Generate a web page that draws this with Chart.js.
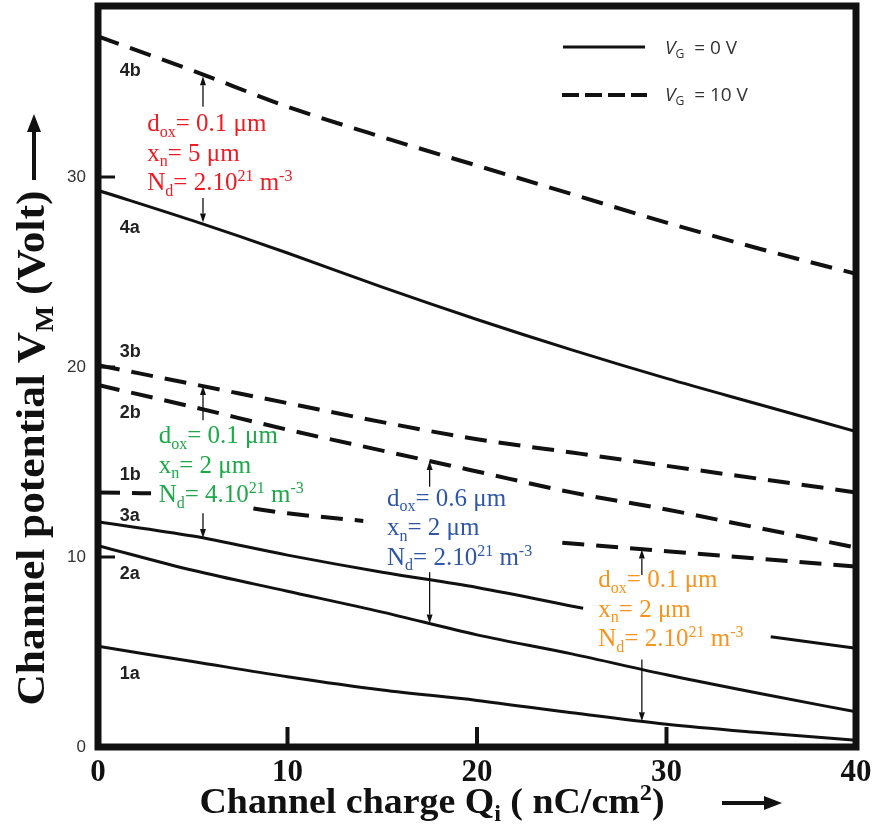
<!DOCTYPE html>
<html>
<head>
<meta charset="utf-8">
<script src="https://cdn.jsdelivr.net/npm/chart.js@4/dist/chart.umd.min.js"></script>
<style>
  html, body { margin: 0; padding: 0; background: #fff; }
</style>
</head>
<body>
<canvas id="potentialChart" width="876" height="826"></canvas>
<script>
// Channel potential V_M (V) against channel charge Q_i (nC/cm2)
const chargeGrid = [0, 5, 10, 15, 20, 25, 30, 35, 40];
const vm4b = [37.4, 35.6, 33.7, 32.1, 30.6, 29.1, 27.6, 26.2, 24.9];
const vm4a = [29.3, 27.7, 26.0, 24.2, 22.5, 20.9, 19.4, 18.0, 16.6];
const vm3b = [20.1, 19.1, 18.1, 17.1, 16.2, 15.5, 14.8, 14.1, 13.4];
const vm2b = [19.05, 17.9, 16.7, 15.6, 14.5, 13.4, 12.5, 11.5, 10.5];
const vm2a = [10.6, 9.3, 8.2, 7.1, 5.9, 4.9, 3.8, 2.8, 1.85];
const vm1a = [5.3, 4.5, 3.7, 3.0, 2.45, 1.8, 1.2, 0.75, 0.35];
// 1b and 3a are broken where the parameter notes sit on them
const charge1b = [0, 2.8, 5, 8.2, 10, 14, 19, 24.5, 30, 35, 40];
const vm1b = [13.4, 13.35, null, 12.55, 12.3, 11.9, null, 10.75, 10.3, 9.9, 9.5];
const charge3a = [0, 5, 10, 15, 20, 25.6, 30, 35.5, 40];
const vm3a = [11.85, 11.1, 10.1, 9.2, 8.4, 7.3, null, 5.8, 5.2];

const xTicks = [0, 10, 20, 30, 40];
const yTicks = [0, 10, 20, 30];

const pts = (xs, ys) => xs.map((x, i) => ({ x: x, y: ys[i] }));

function curve(label, xs, ys, dashed) {
  return {
    label: label,
    data: pts(xs, ys),
    borderColor: '#111',
    borderWidth: dashed ? 4 : 3,
    borderDash: dashed ? [22, 12] : [],
    pointRadius: 0,
    fill: false,
    spanGaps: false,
    cubicInterpolationMode: 'monotone'
  };
}

const SERIF = '"Liberation Serif", "Times New Roman", serif';
const SANS = '"Liberation Sans", Arial, sans-serif';

// rich text: parts are [text, mode] with mode '', 'sub', 'sup' or 'it'
function richWidth(ctx, parts, size, family, weight) {
  let w = 0;
  for (const [t, mode] of parts) {
    const s = (mode === 'sub' || mode === 'sup') ? size * 0.64 : size;
    ctx.font = (mode === 'it' ? 'italic ' : '') + weight + ' ' + s + 'px ' + family;
    w += ctx.measureText(t).width;
  }
  return w;
}
function drawRich(ctx, x, y, parts, size, family, weight, color) {
  let cx = x;
  ctx.fillStyle = color;
  ctx.textAlign = 'left';
  ctx.textBaseline = 'alphabetic';
  for (const [t, mode] of parts) {
    const s = (mode === 'sub' || mode === 'sup') ? size * 0.64 : size;
    const dy = mode === 'sub' ? size * 0.22 : mode === 'sup' ? -size * 0.36 : 0;
    ctx.font = (mode === 'it' ? 'italic ' : '') + weight + ' ' + s + 'px ' + family;
    ctx.fillText(t, cx, y + dy);
    cx += ctx.measureText(t).width;
  }
  return cx;
}
function arrow(ctx, x1, y1, x2, y2, width, headLen, headHalf) {
  const a = Math.atan2(y2 - y1, x2 - x1);
  const bx = x2 - headLen * Math.cos(a), by = y2 - headLen * Math.sin(a);
  ctx.lineWidth = width;
  ctx.setLineDash([]);
  ctx.beginPath(); ctx.moveTo(x1, y1); ctx.lineTo(bx, by); ctx.stroke();
  ctx.beginPath();
  ctx.moveTo(x2, y2);
  ctx.lineTo(bx + headHalf * Math.sin(a), by - headHalf * Math.cos(a));
  ctx.lineTo(bx - headHalf * Math.sin(a), by + headHalf * Math.cos(a));
  ctx.closePath(); ctx.fill();
}

function noteLines(dox, xn, nd) {
  return [
    [['d', ''], ['ox', 'sub'], ['= ' + dox + ' μm', '']],
    [['x', ''], ['n', 'sub'], ['= ' + xn + ' μm', '']],
    [['N', ''], ['d', 'sub'], ['= ' + nd + '.10', ''], ['21', 'sup'], [' m', ''], ['-3', 'sup']]
  ];
}

// parameter notes, anchored in data units (first baseline), with their arrows
const notes = [
  { color: '#ed1c24', q: 2.6, v: 32.4, lines: noteLines('0.1', '5', '2'), aq: 5.54, up: [33.7, 35.3], down: [28.9, 27.6] },
  { color: '#1fa84a', q: 3.2, v: 16.0, lines: noteLines('0.1', '2', '4'), aq: 5.54, up: [17.2, 19.0], down: [12.3, 11.0] },
  { color: '#2f57a6', q: 15.25, v: 12.7, lines: noteLines('0.6', '2', '2'), aq: 17.5, up: [13.7, 15.05], down: [9.2, 6.5] },
  { color: '#f7941d', q: 26.4, v: 8.4, lines: noteLines('0.1', '2', '2'), aq: 28.7, up: [9.05, 10.4], down: [4.6, 1.36] }
];

const curveTags = [['4b', 35.6], ['4a', 27.3], ['3b', 20.8], ['2b', 17.6], ['1b', 14.3], ['3a', 12.15], ['2a', 9.1], ['1a', 3.85]];

// draws rich text squeezed or stretched to a given width, centred on (cx, y)
function drawRichFit(ctx, cx, y, parts, size, family, weight, color, width) {
  const w = richWidth(ctx, parts, size, family, weight);
  ctx.save();
  ctx.translate(cx, y);
  ctx.scale(width / w, 1);
  drawRich(ctx, -w / 2, 0, parts, size, family, weight, color);
  ctx.restore();
}

const figurePlugin = {
  id: 'figure',
  afterDatasetsDraw(chart) {
    const ctx = chart.ctx;
    const xs = chart.scales.x, ys = chart.scales.y;
    ctx.save();
    // curve names next to the potential axis
    ctx.font = 'bold 18px ' + SANS;
    ctx.fillStyle = '#222';
    ctx.textAlign = 'left';
    ctx.textBaseline = 'middle';
    for (const [name, v] of curveTags) ctx.fillText(name, xs.getPixelForValue(1.15), ys.getPixelForValue(v));

    // notes and their arrows
    ctx.strokeStyle = '#111';
    for (const n of notes) {
      const x0 = xs.getPixelForValue(n.q);
      const y0 = ys.getPixelForValue(n.v);
      n.lines.forEach((parts, i) => drawRich(ctx, x0, y0 + i * 29.5, parts, 25, SERIF, 'normal', n.color));
      ctx.fillStyle = '#111';
      const ax = xs.getPixelForValue(n.aq);
      arrow(ctx, ax, ys.getPixelForValue(n.up[0]), ax, ys.getPixelForValue(n.up[1]), 1.3, 9, 3);
      arrow(ctx, ax, ys.getPixelForValue(n.down[0]), ax, ys.getPixelForValue(n.down[1]), 1.3, 9, 3);
    }
    ctx.restore();
  },
  afterDraw(chart) {
    const ctx = chart.ctx;
    const a = chart.chartArea;
    const xs = chart.scales.x, ys = chart.scales.y;
    ctx.save();
    ctx.strokeStyle = '#111';
    ctx.fillStyle = '#111';
    ctx.setLineDash([]);

    // inward tick marks
    ctx.lineWidth = 4;
    for (const t of xTicks.slice(1, -1)) {
      const px = xs.getPixelForValue(t);
      ctx.beginPath(); ctx.moveTo(px, a.bottom); ctx.lineTo(px, a.bottom - 20); ctx.stroke();
    }
    ctx.lineWidth = 3;
    for (const t of yTicks.slice(1)) {
      const py = ys.getPixelForValue(t);
      ctx.beginPath(); ctx.moveTo(a.left, py); ctx.lineTo(a.left + 17, py); ctx.stroke();
    }

    // heavy frame
    ctx.lineWidth = 7;
    ctx.strokeRect(a.left, a.top, a.right - a.left, a.bottom - a.top);

    // legend
    ctx.lineWidth = 3;
    ctx.beginPath(); ctx.moveTo(563, 47); ctx.lineTo(645, 47); ctx.stroke();
    ctx.lineWidth = 4;
    ctx.setLineDash([17, 6]);
    ctx.beginPath(); ctx.moveTo(562, 95); ctx.lineTo(647, 95); ctx.stroke();
    ctx.setLineDash([]);
    drawRich(ctx, 665, 54, [['V', 'it'], ['G', 'sub'], ['  = 0 V', '']], 19, '"Open Sans", sans-serif', 'normal', '#333');
    drawRich(ctx, 665, 101, [['V', 'it'], ['G', 'sub'], ['  = 10 V', '']], 19, '"Open Sans", sans-serif', 'normal', '#333');

    // charge axis title and arrow
    const xTitle = [['Channel charge Q', ''], ['i', 'sub'], [' ( nC/cm', ''], ['2', 'sup'], [')', '']];
    drawRichFit(ctx, 432, 813, xTitle, 36, SERIF, 'bold', '#111', 465);
    ctx.fillStyle = '#111';
    arrow(ctx, 722, 803, 782, 803, 4, 18, 7);

    // potential axis title and arrow
    const yTitle = [['Channel potential V', ''], ['M', 'sub'], [' (Volt)', '']];
    ctx.translate(44, 448);
    ctx.rotate(-Math.PI / 2);
    drawRichFit(ctx, 0, 0, yTitle, 39, SERIF, 'bold', '#111', 515);
    ctx.fillStyle = '#111';
    arrow(ctx, 268, -10, 334, -10, 4, 18, 7);
    ctx.restore();
  }
};

new Chart(document.getElementById('potentialChart'), {
  type: 'line',
  data: {
    datasets: [
      curve('4b', chargeGrid, vm4b, true),
      curve('4a', chargeGrid, vm4a, false),
      curve('3b', chargeGrid, vm3b, true),
      curve('2b', chargeGrid, vm2b, true),
      curve('1b', charge1b, vm1b, true),
      curve('3a', charge3a, vm3a, false),
      curve('2a', chargeGrid, vm2a, false),
      curve('1a', chargeGrid, vm1a, false)
    ]
  },
  options: {
    responsive: false,
    animation: false,
    layout: { padding: { top: 6, right: 20, left: 0, bottom: 0 } },
    plugins: { legend: { display: false }, tooltip: { enabled: false } },
    scales: {
      x: {
        type: 'linear',
        min: 0,
        max: 40,
        grid: { display: false, drawTicks: false },
        border: { display: false },
        afterBuildTicks: s => { s.ticks = xTicks.map(v => ({ value: v })); },
        afterFit: s => { s.height = 79; s.paddingLeft = 0; s.paddingRight = 0; },
        ticks: { padding: 7, color: '#111', font: { family: SERIF, size: 31, weight: 'bold' }, maxRotation: 0 }
      },
      y: {
        min: 0,
        max: 39,
        grid: { display: false, drawTicks: false },
        border: { display: false },
        afterBuildTicks: s => { s.ticks = yTicks.map(v => ({ value: v })); },
        afterFit: s => { s.width = 98; s.paddingTop = 0; s.paddingBottom = 0; },
        ticks: { padding: 12, color: '#333', font: { family: SANS, size: 17 } }
      }
    }
  },
  plugins: [figurePlugin]
});
</script>
</body>
</html>
